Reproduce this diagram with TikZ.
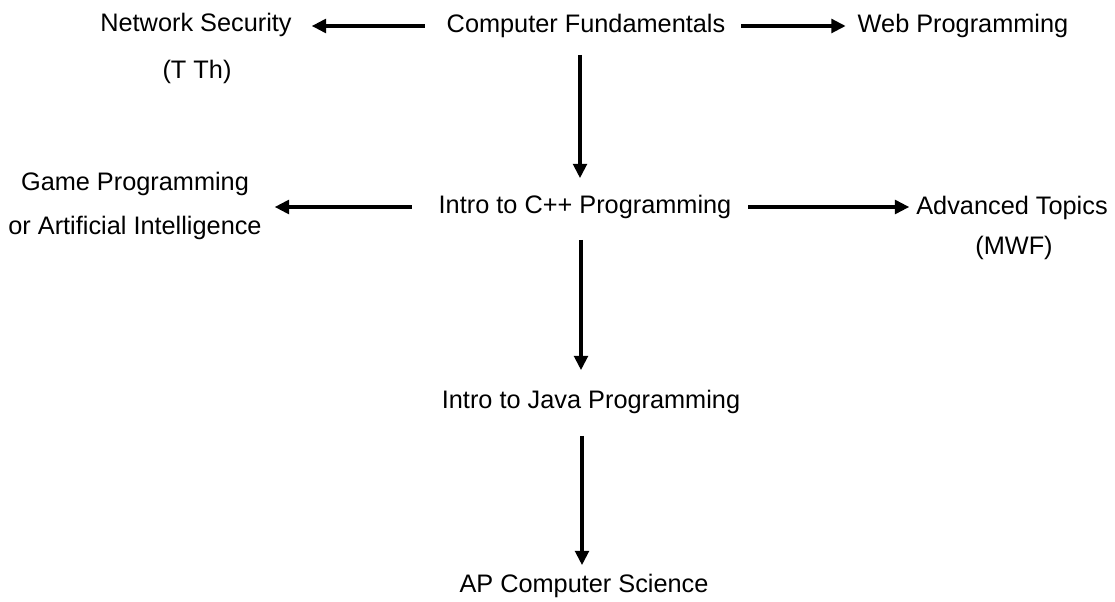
\documentclass[tikz,border=0pt]{standalone}
\usepackage{fontspec}
\setmainfont{Liberation Sans}
\usetikzlibrary{arrows.meta,positioning}
\tikzset{course/.style={font=\fontsize{18}{22}\selectfont,inner sep=0pt,outer sep=0pt,align=center},
  note/.style={course},
  prereq/.style={line width=3pt,-{Triangle[length=0.36cm,width=0.34cm]},shorten <=0.5cm,shorten >=0.45cm}}

\begin{document}
\begin{tikzpicture}[x=0.025cm,y=-0.025cm]
\useasboundingbox (0,0) rectangle (1115,602);
    \node[course] (cf)   at (586,26)  {Computer Fundamentals};
    \node[course] (ns)   at (196,25)  {Network Security};
    \node[note]   (nsd)  at (197,72)  {(T Th)};
    \node[course] (web)  at (963,26)  {Web Programming};
    \node[course,font=\fontsize{18}{31}\selectfont] (game) at (135,206) {Game Programming\\or Artificial Intelligence};
    \node[course] (cpp)  at (585,207) {Intro to C++ Programming};
    \node[course] (adv)  at (1012,208) {Advanced Topics};
    \node[note]   (advd) at (1014,248) {(MWF)};
    \node[course] (java) at (591,402) {Intro to Java Programming};
    \node[course] (ap)   at (584,586) {AP Computer Science};
% connectors
    \draw[prereq,shorten <=0.55cm,shorten >=0.5cm] (cf.west) -- (cf.west -| ns.east);
    \draw[prereq,shorten <=0.4cm,shorten >=0.3cm] (cf.east) -- (cf.east -| web.west);
    \draw[prereq,shorten <=0.425cm,shorten >=0.425cm] ([xshift=-0.15cm]cf.south) -- ([xshift=-0.15cm]cf.south |- cpp.north);
    \draw[prereq,shorten <=0.675cm,shorten >=0.325cm] (cpp.west) -- (cpp.west -| game.east);
    \draw[prereq,shorten <=0.425cm,shorten >=0.175cm] (cpp.east) -- (cpp.east -| adv.west);
    \draw[prereq,shorten <=0.525cm,shorten >=0.5cm] ([xshift=-0.1cm]cpp.south) -- ([xshift=-0.1cm]cpp.south |- java.north);
    \draw[prereq,shorten <=0.55cm,shorten >=0.225cm] ([xshift=-0.225cm]java.south) -- ([xshift=-0.225cm]java.south |- ap.north);
\end{tikzpicture}
\end{document}
